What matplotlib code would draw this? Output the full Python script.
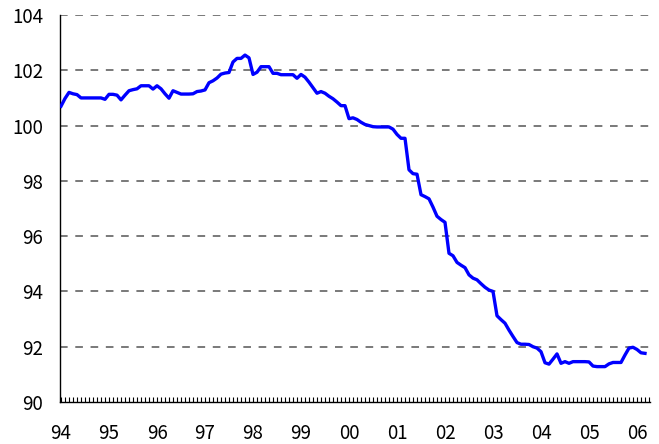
import matplotlib
matplotlib.use("Agg")
import matplotlib.pyplot as plt
from matplotlib.ticker import MultipleLocator, FixedLocator

plt.rcParams['font.family'] = ['Noto Sans CJK JP', 'DejaVu Sans']

# Monthly index values, Jan 1994 .. Mar 2006
values = [
    100.70, 100.98, 101.20, 101.15, 101.12, 101.00, 101.00, 101.00, 101.00, 101.00,
    101.00, 100.95, 101.13, 101.13, 101.10, 100.93, 101.10, 101.26, 101.30, 101.33,
    101.44, 101.44, 101.44, 101.32, 101.44, 101.33, 101.15, 100.99, 101.26, 101.20,
    101.14, 101.14, 101.14, 101.15, 101.23, 101.25, 101.29, 101.55, 101.62, 101.72,
    101.86, 101.90, 101.92, 102.30, 102.43, 102.43, 102.55, 102.45, 101.85, 101.93,
    102.13, 102.13, 102.13, 101.89, 101.89, 101.84, 101.84, 101.84, 101.84, 101.71,
    101.85, 101.75, 101.57, 101.37, 101.17, 101.23, 101.17, 101.06, 100.97, 100.85,
    100.72, 100.72, 100.25, 100.28, 100.22, 100.12, 100.04, 100.00, 99.96, 99.95,
    99.95, 99.95, 99.95, 99.87, 99.68, 99.54, 99.54, 98.40, 98.26, 98.24,
    97.50, 97.43, 97.35, 97.05, 96.72, 96.60, 96.50, 95.38, 95.29, 95.05,
    94.95, 94.86, 94.60, 94.48, 94.42, 94.28, 94.15, 94.05, 94.00, 93.12,
    92.98, 92.85, 92.60, 92.37, 92.15, 92.09, 92.09, 92.08, 92.00, 91.95,
    91.82, 91.42, 91.37, 91.55, 91.74, 91.40, 91.46, 91.40, 91.46, 91.46,
    91.46, 91.46, 91.45, 91.30, 91.28, 91.28, 91.28, 91.38, 91.43, 91.43,
    91.43, 91.70, 91.95, 91.98, 91.90, 91.78, 91.76,
]
year_labels = ["94", "95", "96", "97", "98", "99", "00", "01", "02", "03", "04", "05", "06"]
y_ticks = [90, 92, 94, 96, 98, 100, 102, 104]

months = list(range(len(values)))

fig = plt.figure(figsize=(6.59, 4.44), dpi=100)
ax = fig.add_axes([60/659, 1-402/444, 590/659, 387/444])

ax.plot(months, values, color='#0000FF', lw=2.4, solid_joinstyle='round', zorder=3)

ax.set_ylim(90, 104)
ax.set_xlim(-0.25, 147.25)
ax.set_yticks(y_ticks)
ax.set_yticklabels([str(v) for v in y_ticks])
for v in y_ticks[1:]:
    ax.axhline(v, color='#555555', lw=1.1, linestyle=(0, (5, 5)), zorder=1)

ax.xaxis.set_major_locator(FixedLocator([12*k for k in range(len(year_labels))]))
ax.set_xticklabels(year_labels)
ax.xaxis.set_minor_locator(MultipleLocator(1))
ax.tick_params(axis='x', which='both', direction='in', length=3.5, width=0.8, top=False)
ax.tick_params(axis='x', which='major', pad=15, labelsize=13.5)
ax.tick_params(axis='y', which='both', length=0, pad=12, labelsize=13.5)

for s in ['top', 'right']:
    ax.spines[s].set_visible(False)
for s in ['left', 'bottom']:
    ax.spines[s].set_color('black')
    ax.spines[s].set_linewidth(1.0)

fig.savefig("out.png", dpi=100)
